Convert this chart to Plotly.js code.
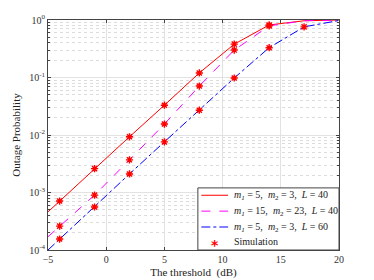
<!DOCTYPE html>
<html><head><meta charset="utf-8">
<script src="https://cdn.plot.ly/plotly-3.0.1.min.js"></script>
<style>html,body{margin:0;padding:0;background:#fff}</style>
</head><body><div id="c" style="width:374px;height:280px"></div>
<script>
const xLine = [-5, -4, -1, 2, 5, 8, 11, 14, 17, 20];
const redLine = [4.6e-4, 7.1e-4, 2.6e-3, 9.3e-3, 0.033, 0.12, 0.38, 0.82, 0.97, 1.0];
const magLine = [1.7e-4, 2.6e-4, 9.0e-4, 3.7e-3, 0.0155, 0.071, 0.30, 0.79, 0.97, 1.0];
const bluLine = [1.0e-4, 1.55e-4, 5.6e-4, 2.1e-3, 7.6e-3, 0.027, 0.098, 0.33, 0.76, 0.98];
const xSim = [-4, -1, 2, 5, 8, 11, 14];
const redSim = [7.1e-4, 2.6e-3, 9.3e-3, 0.033, 0.12, 0.38, 0.82];
const magSim = [2.6e-4, 9.0e-4, 3.7e-3, 0.0155, 0.071, 0.30, 0.79];
const xSimB = [-4, -1, 2, 5, 8, 11, 14, 17];
const bluSim = [1.55e-4, 5.6e-4, 2.1e-3, 7.6e-3, 0.027, 0.098, 0.33, 0.76];
const names = [
  '<i>m</i><sub><i>1</i></sub> = 5,  <i>m</i><sub>2</sub> = 3,  <i>L</i> = 40',
  '<i>m</i><sub><i>1</i></sub> = 15,  <i>m</i><sub>2</sub> = 23,  <i>L</i> = 40',
  '<i>m</i><sub><i>1</i></sub> = 5,  <i>m</i><sub>2</sub> = 3,  <i>L</i> = 60',
  'Simulation'
];
const yTickVals = [1e-4, 1e-3, 1e-2, 1e-1, 1];
const yTickText = ['10<sup>-4</sup>', '10<sup>-3</sup>', '10<sup>-2</sup>', '10<sup>-1</sup>', '10<sup>0</sup>'];
const xTickVals = [-5, 0, 5, 10, 15, 20];
const yMinorVals = [];
for (const d of [1e-4, 1e-3, 1e-2, 1e-1]) for (let k = 2; k <= 9; k++) yMinorVals.push(k * d);

const colors = ['#ff0000', '#ff00ff', '#0000ff'];
const dashes = ['solid', 'dash', 'dashdot'];
const mk = {symbol: 'asterisk-open', size: 6, color: '#ff0000', line: {color: '#ff0000', width: 1.4}};
const traces = [
  {x: xLine, y: redLine, mode: 'lines', line: {color: colors[0], width: 1, dash: dashes[0]}},
  {x: xLine, y: magLine, mode: 'lines', line: {color: colors[1], width: 1, dash: dashes[1]}},
  {x: xLine, y: bluLine, mode: 'lines', line: {color: colors[2], width: 1, dash: dashes[2]}},
  {x: xSim, y: redSim, mode: 'markers', marker: mk},
  {x: xSim, y: magSim, mode: 'markers', marker: mk},
  {x: xSimB, y: bluSim, mode: 'markers', marker: mk}
];
const ff = 'Liberation Serif, Times New Roman, serif';
const font = {family: ff, size: 10, color: '#333'};

// custom legend box (layout, not data)
const lg = {x0: 0.515, x1: 1, y0: 0, y1: 0.27, rows: [0.238, 0.169, 0.100, 0.035], ls: 0.527, le: 0.619, tx: 0.632};
const shapes = [{type: 'rect', xref: 'paper', yref: 'paper', x0: lg.x0, x1: lg.x1, y0: lg.y0, y1: lg.y1,
  line: {color: '#444', width: 1}, fillcolor: '#fff', layer: 'above'}];
const annotations = [];
for (let i = 0; i < 3; i++) {
  shapes.push({type: 'line', xref: 'paper', yref: 'paper', x0: lg.ls, x1: lg.le, y0: lg.rows[i], y1: lg.rows[i],
    line: {color: colors[i], width: 1, dash: dashes[i]}, layer: 'above'});
}
for (let i = 0; i < 4; i++) {
  annotations.push({xref: 'paper', yref: 'paper', x: lg.tx, y: lg.rows[i], xanchor: 'left', yanchor: 'middle',
    text: names[i], showarrow: false, font: {family: ff, size: 10, color: '#222'}});
}
annotations.push({xref: 'paper', yref: 'paper', x: (lg.ls + lg.le) / 2, y: lg.rows[3] - 0.014, xanchor: 'center', yanchor: 'middle',
  text: '<b>*</b>', showarrow: false, font: {family: 'DejaVu Sans, sans-serif', size: 14, color: '#ff0000'}});

const layout = {
  width: 374, height: 280,
  margin: {l: 48, r: 35, t: 20, b: 30},
  paper_bgcolor: '#fff', plot_bgcolor: '#fff',
  font: font,
  showlegend: false,
  hovermode: false,
  shapes: shapes,
  annotations: annotations,
  xaxis: {
    range: [-5, 20], tickvals: xTickVals, ticks: 'inside', ticklen: 3, tickcolor: '#444',
    showline: true, linecolor: '#444', linewidth: 1, mirror: 'ticks',
    showgrid: true, gridcolor: '#e2e2e2', gridwidth: 1, zeroline: false,
    tickfont: {family: ff, size: 10, color: '#333'},
    title: {text: 'The threshold  (dB)', font: {family: ff, size: 11, color: '#222'}, standoff: 4}
  },
  yaxis: {
    type: 'log', range: [-4, 0], tickmode: 'array', tickvals: yTickVals, ticktext: yTickText,
    ticks: 'inside', ticklen: 3, tickcolor: '#444',
    showline: true, linecolor: '#444', linewidth: 1, mirror: 'ticks',
    showgrid: true, gridcolor: '#e2e2e2', gridwidth: 1, zeroline: false,
    tickfont: {family: ff, size: 10, color: '#333'},
    minor: {tickmode: 'array', tickvals: yMinorVals, ticks: 'inside', ticklen: 2, tickcolor: '#444',
            showgrid: true, gridcolor: '#dcdcdc', griddash: 'dot', gridwidth: 1},
    title: {text: 'Outage Probability', font: {family: ff, size: 11, color: '#222'}, standoff: 6}
  }
};
Plotly.newPlot('c', traces, layout, {staticPlot: true, displayModeBar: false});
</script></body></html>
